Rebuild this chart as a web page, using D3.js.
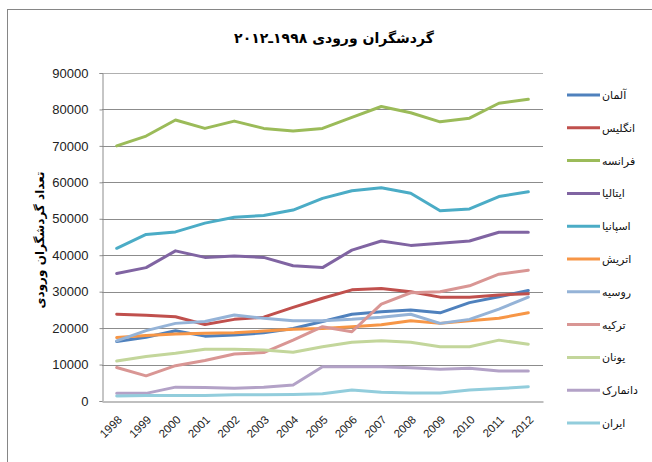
<!DOCTYPE html>
<html><head><meta charset="utf-8">
<script src="https://cdn.jsdelivr.net/npm/d3@7"></script>
<style>body{margin:0;background:#fff}svg{display:block}</style>
</head><body>
<script>
const years = ["1998","1999","2000","2001","2002","2003","2004","2005","2006","2007","2008","2009","2010","2011","2012"];
const seriesNames = ["آلمان","انگلیس","فرانسه","ایتالیا","اسپانیا","اتریش","روسیه","ترکیه","یونان","دانمارک","ایران"];
const seriesColors = ["#4F81BD","#C0504D","#9BBB59","#8064A2","#4BACC6","#F79646","#95B3D7","#D99694","#C3D69B","#B3A2C7","#92CDDC"];
const germany = [16300,17500,19300,17800,18100,18700,19900,21800,23800,24500,25000,24200,27000,28600,30300];
const england = [23800,23500,23100,21000,22400,23000,25700,28200,30500,30900,30000,28500,28500,29100,29400];
const france  = [70000,72700,77100,74800,76800,74800,74100,74800,77800,80800,79100,76600,77600,81700,82800];
const italy   = [35000,36600,41200,39400,39800,39400,37100,36600,41400,43900,42700,43300,43900,46300,46300];
const spain   = [41900,45700,46400,48800,50400,50900,52400,55600,57700,58500,57000,52200,52700,56100,57400];
const austria = [17400,18000,18400,18600,18700,19200,19700,19900,20400,20900,22000,21300,22000,22700,24200];
const russia  = [16500,19300,21300,21800,23600,22700,22000,22000,22400,23000,23800,21300,22400,25200,28500];
const turkey  = [9200,6900,9700,11100,12900,13300,16700,20400,19000,26600,29700,30000,31600,34800,35900];
const greece  = [11000,12200,13100,14200,14200,14000,13400,14900,16100,16500,16100,14900,14900,16700,15600];
const denmark = [2100,2100,3800,3700,3500,3800,4400,9400,9400,9400,9100,8700,9000,8200,8200];
const iran    = [1400,1500,1500,1500,1700,1700,1800,2000,3000,2400,2200,2200,3000,3400,3900];
const yTicks = [0,10000,20000,30000,40000,50000,60000,70000,80000,90000];
const titleText = "گردشگران ورودی  ۱۹۹۸ـ۲۰۱۲";
const yTitle = "تعداد گردشگران ورودی";

const allSeries = [germany,england,france,italy,spain,austria,russia,turkey,greece,denmark,iran];

const W = 652, H = 462;
const svg = d3.select("body").append("svg").attr("width", W).attr("height", H);

// outer frame
svg.append("rect").attr("x",7.5).attr("y",9.5).attr("width",720).attr("height",520)
  .attr("fill","none").attr("stroke","#868686").attr("stroke-width",1);

const L = 102, R = 543, T = 73, B = 401;
const x = d3.scaleBand().domain(years).range([L, R]);
const y = d3.scaleLinear().domain([0, 90000]).range([B, T]);

// gridlines
svg.append("g").selectAll("line").data(yTicks.slice(1)).join("line")
  .attr("x1", L).attr("x2", R)
  .attr("y1", d => Math.round(y(d)) + 0.5).attr("y2", d => Math.round(y(d)) + 0.5)
  .attr("stroke", d => d === 90000 ? "#b0b0b0" : "#8c8c8c").attr("stroke-width", 1);

// y axis
const yAxis = svg.append("g").attr("transform", `translate(${L + 0.5},0)`)
  .call(d3.axisLeft(y).tickValues(yTicks).tickSize(3).tickPadding(11).tickFormat(d3.format("d")));
yAxis.select(".domain").attr("stroke", "#8c8c8c");
yAxis.selectAll(".tick line").attr("stroke", "#8c8c8c");
yAxis.selectAll("text").attr("font-family", "Liberation Sans, Arial, sans-serif").attr("font-size", 13).attr("fill", "#222");

// x axis
const xAxis = svg.append("g").attr("transform", `translate(0,${B + 0.5})`)
  .call(d3.axisBottom(x).tickSize(0).tickPadding(0));
xAxis.select(".domain").attr("stroke", "#bfbfbf").attr("stroke-width", 2);
xAxis.selectAll("text")
  .attr("font-family", "Liberation Sans, Arial, sans-serif").attr("font-size", 11.5).attr("fill", "#222")
  .attr("text-anchor", "end").attr("dy", 0).attr("y", 0)
  .attr("transform", "translate(6,19) rotate(-45)");

// lines
const line = d3.line().x((d, i) => x(years[i]) + x.bandwidth() / 2).y(d => y(d));
svg.append("g").selectAll("path").data(allSeries).join("path")
  .attr("d", d => line(d)).attr("fill", "none")
  .attr("stroke", (d, i) => seriesColors[i]).attr("stroke-width", 3)
  .attr("stroke-linejoin", "round").attr("stroke-linecap", "round");

// legend
const lg = svg.append("g");
seriesNames.forEach((n, i) => {
  const ly = 95 + i * 32.8;
  lg.append("line").attr("x1", 567).attr("x2", 600).attr("y1", ly).attr("y2", ly)
    .attr("stroke", seriesColors[i]).attr("stroke-width", 3);
  lg.append("text").attr("x", 602).attr("y", ly + 4).attr("text-anchor", "start")
    .attr("font-family", "DejaVu Sans, sans-serif").attr("font-size", 11).attr("fill", "#111")
    .text(n);
});

// title
svg.append("text").attr("x", 334).attr("y", 43).attr("text-anchor", "middle")
  .attr("direction", "rtl")
  .attr("font-family", "DejaVu Sans, sans-serif").attr("font-weight", "bold").attr("font-size", 14).attr("fill", "#000")
  .text(titleText);

// y title
svg.append("text").attr("transform", "translate(44,240) rotate(-90)").attr("text-anchor", "middle")
  .attr("font-family", "DejaVu Sans, sans-serif").attr("font-weight", "bold").attr("font-size", 12).attr("fill", "#000")
  .text(yTitle);
</script>
</body></html>
